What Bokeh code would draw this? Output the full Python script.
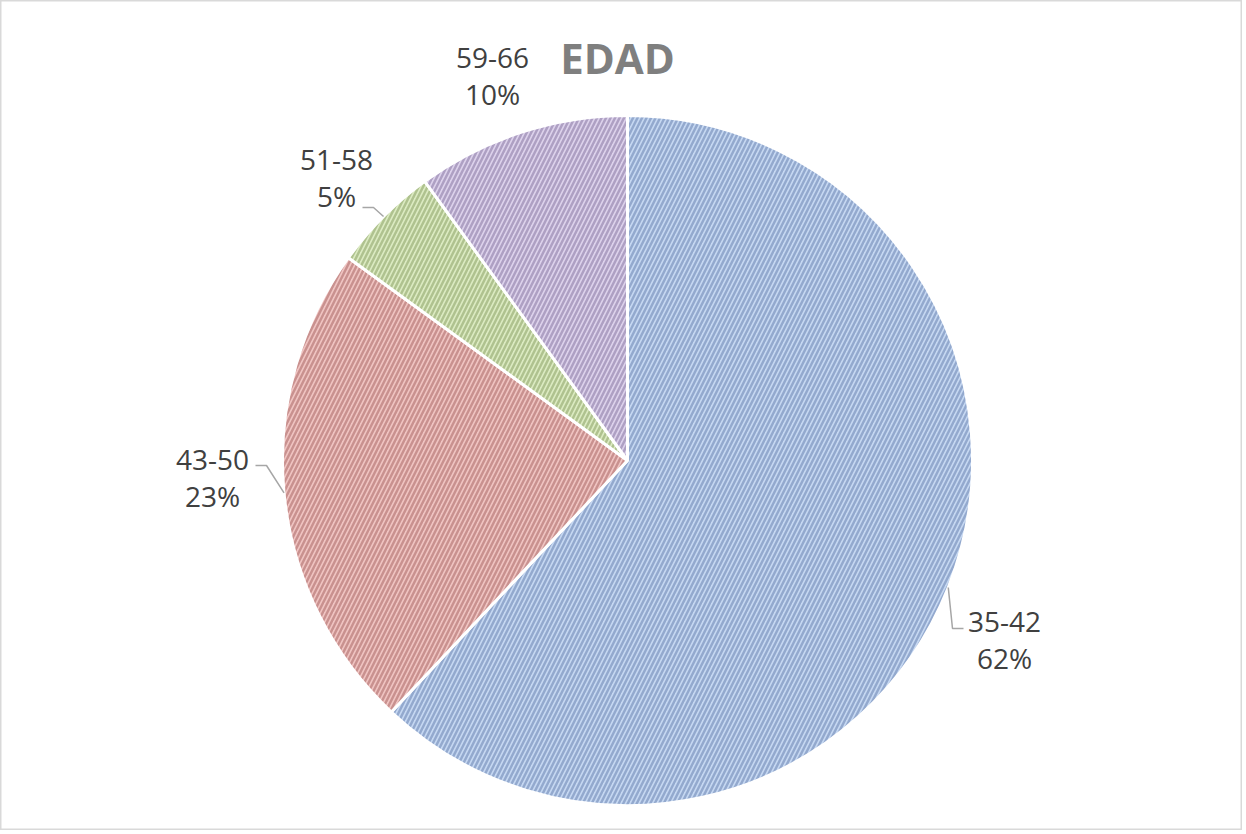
import math
from bokeh.plotting import figure
from bokeh.models import Range1d, ColumnDataSource
from bokeh.core.properties import value
from bokeh.embed import file_html
from bokeh.resources import INLINE

# ---- data ----
categories = ["35-42", "43-50", "51-58", "59-66"]
percents = [62, 23, 5, 10]
pct_labels = ["62%", "23%", "5%", "10%"]
title_text = "EDAD"

# ---- styles / layout ----
fill_colors = ["#c6d8f2", "#f0c4c2", "#dcebc2", "#ddd2ec"]
hatch_colors = ["#6a84b0", "#a96866", "#8aa066", "#8676a2"]
W, H = 1242, 830
CX_IMG, CY_IMG, R = 627, 460, 345
# label anchors (image px: center x, vertical center of first line)
label_anchor = [(1004, 621), (212, 459), (336, 159), (492, 57)]
leader_end = [(963, 628), (255, 465), (362, 207), None]
LINE_GAP = 36


def dx(x):
    return x


def dy(y):
    return H - y


cx, cy = dx(CX_IMG), dy(CY_IMG)

p = figure(width=W, height=H, output_backend="svg", toolbar_location=None,
           x_range=Range1d(0, W), y_range=Range1d(0, H),
           x_axis_location=None, y_axis_location=None, min_border=0)
p.grid.visible = False
p.outline_line_color = "#d9d9d9"
p.outline_line_width = 2
p.background_fill_color = "white"
p.border_fill_color = "white"

total = sum(percents)
starts, ends, mids = [], [], []
cum = 0.0
for v in percents:
    a0 = math.pi / 2 - 2 * math.pi * cum / total
    cum += v
    a1 = math.pi / 2 - 2 * math.pi * cum / total
    starts.append(a1)
    ends.append(a0)
    mids.append((a0 + a1) / 2)

src = ColumnDataSource(dict(x=[cx] * len(percents), y=[cy] * len(percents),
                            start=starts, end=ends, fill=fill_colors, hatch=hatch_colors,
                            cat=categories))
p.wedge(x="x", y="y", radius=R, start_angle="start", end_angle="end", source=src,
        fill_color="fill", line_color="white", line_width=3,
        hatch_pattern="/", hatch_color="hatch", hatch_alpha=0.55,
        hatch_scale=9, hatch_weight=2.5)

# leader lines
for i, end in enumerate(leader_end):
    if end is None:
        continue
    sx = cx + R * math.cos(mids[i])
    sy = cy + R * math.sin(mids[i])
    ex, ey = dx(end[0]), dy(end[1])
    bx = ex + (11 if ex < cx else -11)
    p.line([sx, bx, ex], [sy, ey, ey], line_color="#a6a6a6", line_width=1.5)

# labels
lx = [dx(a[0]) for a in label_anchor]
ly1 = [dy(a[1]) for a in label_anchor]
ly2 = [dy(a[1] + LINE_GAP) for a in label_anchor]
p.text(x=lx, y=ly1, text=categories, text_align="center", text_baseline="middle",
       text_font=value("Open Sans"), text_font_size="28px", text_color="#404040")
p.text(x=lx, y=ly2, text=pct_labels, text_align="center", text_baseline="middle",
       text_font=value("Open Sans"), text_font_size="28px", text_color="#404040")

# title
p.text(x=[dx(617)], y=[dy(57)], text=[title_text], text_align="center",
       text_baseline="middle", text_font=value("Open Sans"), text_font_style="bold",
       text_font_size="42px", text_color="#7f7f7f")

open("out.html", "w").write(file_html(p, INLINE))
